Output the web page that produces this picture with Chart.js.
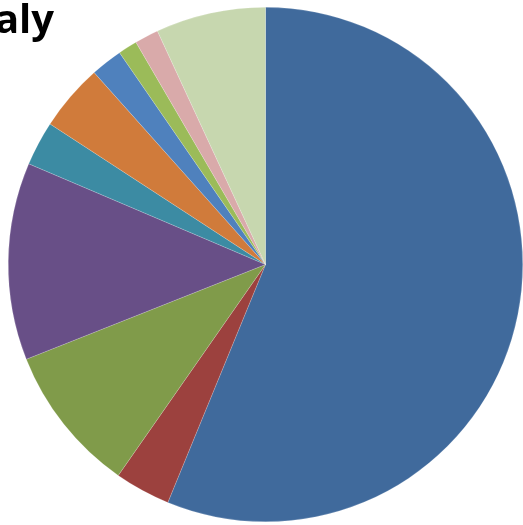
<!DOCTYPE html>
<html>
<head>
<meta charset="utf-8">
<script src="https://cdn.jsdelivr.net/npm/chart.js@4/dist/chart.umd.min.js"></script>
<style>
  html, body { margin: 0; padding: 0; background: #fff; overflow: hidden; }
  #box { width: 523px; height: 525px; position: relative; }
</style>
</head>
<body>
<div id="box"><canvas id="torta"></canvas></div>
<script>
// Dati (quote in percentuale, in senso orario dalle ore 12)
const titolo = "Italy";
const categorie = ["A", "B", "C", "D", "E", "F", "G", "H", "I", "J"];
const valori = [56.2, 3.5, 9.3, 12.4, 2.8, 4.2, 2.0, 1.2, 1.5, 6.9];
const colori = ["#406A9C", "#9C413E", "#809B4A", "#684F87", "#3C8BA3",
                "#D07B3B", "#4F81BD", "#9BBB59", "#D9AAAA", "#C7D7AF"];

// Titolo disegnato a mano: nell'originale e' tagliato a sinistra
const titoloPlugin = {
  id: "titoloTagliato",
  afterDraw(chart) {
    const ctx = chart.ctx;
    ctx.save();
    ctx.font = "bold 40px 'Open Sans', sans-serif";
    ctx.fillStyle = "#000";
    ctx.textAlign = "right";
    ctx.textBaseline = "alphabetic";
    ctx.fillText(titolo, 54, 33);
    ctx.restore();
  }
};

const ctx = document.getElementById("torta").getContext("2d");
new Chart(ctx, {
  type: "pie",
  data: {
    labels: categorie,
    datasets: [{
      data: valori,
      backgroundColor: colori,
      borderColor: "rgba(255,255,255,0.35)",
      borderWidth: 0.5
    }]
  },
  options: {
    responsive: true,
    maintainAspectRatio: false,
    animation: false,
    layout: { padding: { left: 8, right: 0, top: 6, bottom: 2 } },
    plugins: {
      legend: { display: false },
      tooltip: { enabled: false },
      title: { display: false }
    }
  },
  plugins: [titoloPlugin]
});
</script>
</body>
</html>
